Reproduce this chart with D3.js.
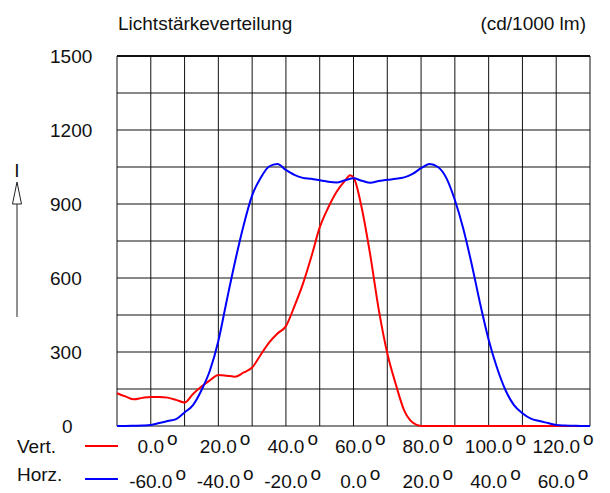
<!DOCTYPE html>
<html>
<head>
<meta charset="utf-8">
<script src="https://cdn.jsdelivr.net/npm/d3@7"></script>
<style>
  body { margin: 0; background: #fff; }
  text { font-family: "Liberation Sans", Arial, sans-serif; font-size: 19px; fill: #111; }
</style>
</head>
<body>
<div class="chart"></div>
<script>
// Vertical plane (red), angles in degrees
const vertAngles = [-10, -7.5, -5, -2.5, 0, 2.5, 5, 7.5, 10, 12.5, 15, 17.5, 20, 22.5, 25, 27.5, 30,
  32.5, 35, 37.5, 40, 42.5, 45, 47.5, 50, 52.5, 55, 57.5, 59, 60, 62.5, 65, 67.5, 70, 72.5, 75, 77.5, 80,
  82.5, 85, 87.5, 90, 92.5, 95, 97.5, 100, 102.5, 105, 107.5, 110, 112.5, 115, 117.5, 120, 122.5, 125, 127.5, 130];
const vertValues = [133, 120, 108, 114, 118, 118, 115, 106, 95, 130, 160, 185, 207, 204, 200, 217, 237,
  288, 338, 375, 405, 485, 575, 685, 805, 885, 950, 995, 1017, 1008, 880, 690, 470, 295, 170, 63, 14, 0,
  0, 0, 0, 0, 0, 0, 0, 0, 0, 0, 0, 0, 0, 0, 0, 0, 0, 0, 0, 0];

// Horizontal plane (blue)
const horzAngles = [-70, -67.5, -65, -62.5, -60, -57.5, -55, -52.5, -50, -47.5, -45, -42.5, -40, -37.5,
  -35, -32.5, -30, -27.5, -25, -22.5, -20, -17.5, -15, -12.5, -10, -7.5, -5, -2.5, 0, 2.5, 5, 7.5, 10,
  12.5, 15, 17.5, 20, 22.5, 25, 27.5, 30, 32.5, 35, 37.5, 40, 42.5, 45, 47.5, 50, 52.5, 55, 57.5, 60,
  62.5, 65, 67.5, 70];
const horzValues = [0, 0, 1, 2, 4, 12, 20, 28, 55, 85, 145, 225, 345, 510,
  670, 815, 935, 1005, 1052, 1062, 1038, 1018, 1006, 1002, 996, 990, 987, 996, 1004, 994, 986, 993, 998,
  1002, 1008, 1022, 1045, 1062, 1050, 1005, 916, 800, 655, 495, 350, 235, 145, 85, 52, 30, 20, 12, 4,
  2, 1, 0, 0];

const vertTicks = [0, 20, 40, 60, 80, 100, 120];
const horzTicks = [-60, -40, -20, 0, 20, 40, 60];
const yTicks = [0, 300, 600, 900, 1200, 1500];

const width = 610, height = 493;
const plot = {left: 117, right: 590, top: 56, bottom: 426};

const svg = d3.select(".chart").append("svg")
  .attr("width", width)
  .attr("height", height);

const xV = d3.scaleLinear().domain([-10, 130]).range([plot.left, plot.right]);
const xH = d3.scaleLinear().domain([-70, 70]).range([plot.left, plot.right]);
const y = d3.scaleLinear().domain([0, 1500]).range([plot.bottom, plot.top]);

// grid
const grid = svg.append("g").attr("stroke", "#111").attr("stroke-width", 1);
grid.selectAll("line.v")
  .data(xV.ticks(14))
  .enter().append("line")
  .attr("x1", d => xV(d)).attr("x2", d => xV(d))
  .attr("y1", plot.top).attr("y2", plot.bottom);
grid.selectAll("line.h")
  .data(d3.range(0, 1501, 150))
  .enter().append("line")
  .attr("x1", plot.left).attr("x2", plot.right)
  .attr("y1", d => y(d)).attr("y2", d => y(d));
svg.append("line")
  .attr("x1", plot.left).attr("x2", plot.right)
  .attr("y1", plot.top).attr("y2", plot.top)
  .attr("stroke", "#111").attr("stroke-width", 2);

// y labels
svg.selectAll("text.ylab")
  .data(yTicks)
  .enter().append("text")
  .attr("x", d => d === 0 ? 62 : 50)
  .attr("y", d => y(d))
  .attr("dy", "0.36em")
  .text(d => d);

// axis arrow with "I"
svg.append("text").attr("x", 17).attr("y", 177).attr("text-anchor", "middle").text("I");
svg.append("line").attr("x1", 17).attr("x2", 17).attr("y1", 203).attr("y2", 317)
  .attr("stroke", "#222").attr("stroke-width", 1);
svg.append("path")
  .attr("d", "M17,182 L21.5,204 L12.5,204 Z")
  .attr("fill", "#fff").attr("stroke", "#222").attr("stroke-width", 1);

// title
svg.append("text").attr("x", 118).attr("y", 30).text("Lichtstärkeverteilung");
svg.append("text").attr("x", 586).attr("y", 30).attr("text-anchor", "end").text("(cd/1000 lm)");

// curves
const line = d3.line().x(d => d[0]).y(d => y(d[1])).curve(d3.curveMonotoneX);
svg.append("path")
  .datum(vertAngles.map((a, i) => [xV(a), vertValues[i]]))
  .attr("d", line)
  .attr("fill", "none").attr("stroke", "#ff0000").attr("stroke-width", 2);
svg.append("path")
  .datum(horzAngles.map((a, i) => [xH(a), horzValues[i]]))
  .attr("d", line)
  .attr("fill", "none").attr("stroke", "#0000ff").attr("stroke-width", 2);

// legend rows with angle labels
function labelRow(name, color, ticks, scale, nameY, lineY, numY) {
  svg.append("text").attr("x", 17).attr("y", nameY).text(name);
  svg.append("line").attr("x1", 85).attr("x2", 118).attr("y1", lineY).attr("y2", lineY)
    .attr("stroke", color).attr("stroke-width", 2);
  ticks.forEach(t => {
    const num = svg.append("text")
      .attr("x", scale(t)).attr("y", numY)
      .attr("text-anchor", "middle")
      .text(t.toFixed(1));
    const w = num.node().getComputedTextLength();
    svg.append("text")
      .attr("x", scale(t) + w / 2 + 3).attr("y", numY - 8)
      .text("o");
  });
}
labelRow("Vert.", "#ff0000", vertTicks, xV, 453, 446, 453);
labelRow("Horz.", "#0000ff", horzTicks, xH, 481, 479, 488);
</script>
</body>
</html>
